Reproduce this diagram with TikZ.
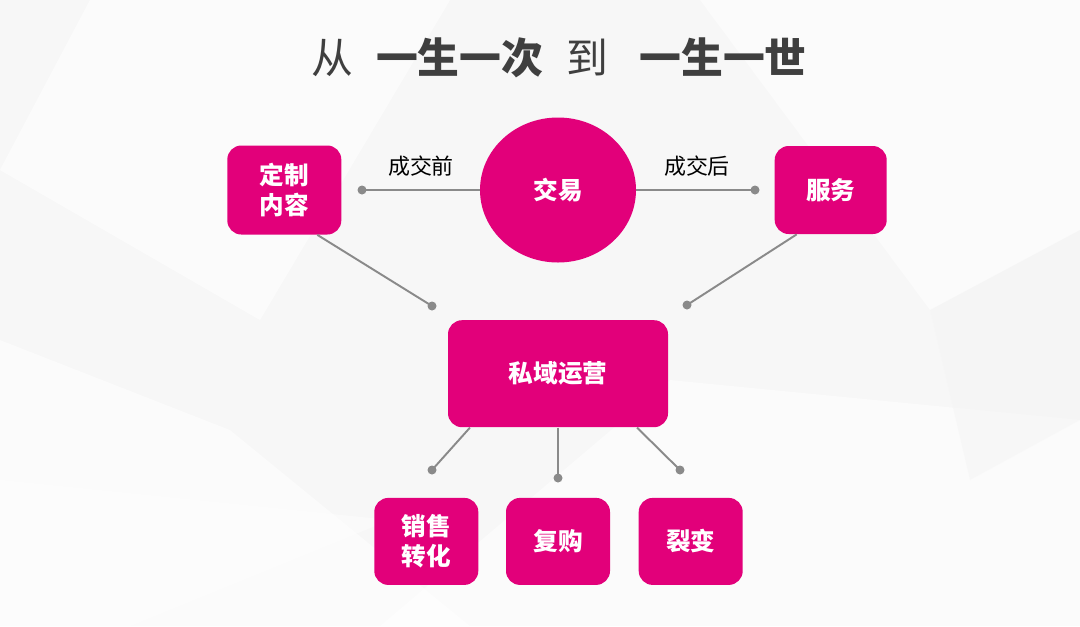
\documentclass[tikz,border=0pt]{standalone}
\usepackage{fontspec}
\setmainfont{Noto Sans CJK SC}
\usepackage{xcolor}
\usetikzlibrary{arrows.meta,positioning,shapes.geometric}
\definecolor{rose}{HTML}{E2007A}
\definecolor{titlegray}{HTML}{3F3F3F}
\definecolor{linkgray}{HTML}{8A8A8A}
\begin{document}
\begin{tikzpicture}[node distance=1.14cm and 2.76cm, every node/.style={font=\fontsize{14pt}{17pt}\selectfont\bfseries}, box/.style={fill=rose,text=white,rounded corners=0.28cm,align=center,inner sep=0pt}, link/.style={draw=linkgray,line width=1.1pt}, dot/.style={fill=linkgray,circle,inner sep=0pt,minimum size=0.18cm}, tag/.style={font=\fontsize{12.5pt}{15pt}\selectfont,text=black}]
% background facets
\fill[gray!6] (0,0) rectangle (21.6,-12.52);
\fill[white,opacity=0.6] (0,-3.4) -- (1.8,0) -- (9,0) -- (5.2,-6.4) -- cycle;
\fill[white,opacity=0.5] (14,0) -- (21.6,0) -- (21.6,-4.6) -- (18.6,-6.2) -- cycle;
\fill[gray!3] (0,-6.8) -- (4.6,-8.6) -- (9.4,-12.52) -- (0,-12.52) -- cycle;
\fill[white,opacity=0.5] (7.6,-12.52) -- (13.4,-7.6) -- (21.6,-8.4) -- (21.6,-12.52) -- cycle;
\fill[gray!8,opacity=0.5] (18.6,-6.2) -- (21.6,-4.6) -- (21.6,-8.4) -- (19.4,-9.6) -- cycle;
\fill[white,opacity=0.4] (0,-9.6) -- (7.8,-10.4) -- (2.6,-12.52) -- (0,-12.52) -- cycle;
\useasboundingbox (0,0) rectangle (21.6,-12.52);
% nodes
\node[font=\fontsize{23.8pt}{26pt}\selectfont,text=titlegray] (title) at (11.18,-1.16) {从\hspace{0.55em}\textbf{一生一次}\hspace{0.55em}到\hspace{0.75em}\textbf{一生一世}};
\node[fill=rose,text=white,ellipse,minimum width=3.12cm,minimum height=2.9cm,inner sep=0pt] (deal) at (11.16,-3.8) {交易};
\node[box,minimum width=2.28cm,minimum height=1.78cm,left=of deal] (custom) {定制\\内容};
\node[box,minimum width=2.24cm,minimum height=1.76cm,right=of deal] (service) {服务};
\node[box,minimum width=4.4cm,minimum height=2.14cm,below=of deal] (private) {私域运营};
\node[box,minimum width=2.08cm,minimum height=1.74cm,below=1.4cm of private] (rebuy) {复购};
\node[box,minimum width=2.08cm,minimum height=1.74cm,left=0.54cm of rebuy] (sales) {销售\\转化};
\node[box,minimum width=2.08cm,minimum height=1.74cm,right=0.56cm of rebuy] (fission) {裂变};
\node[tag] (before) at (8.42,-3.32) {成交前};
\node[tag] (after) at (13.94,-3.32) {成交后};
% free ends
\coordinate (c1) at (7.24,-3.8); \coordinate (c2) at (15.1,-3.8); \coordinate (c3) at (8.64,-6.12); \coordinate (c4) at (13.74,-6.1);
\coordinate (c5) at (8.64,-9.4); \coordinate (c6) at (11.16,-9.56); \coordinate (c7) at (13.6,-9.4);
\draw[link] (c1)--(deal.west); \draw[link] (deal.east)--(c2); \draw[link] ([xshift=0.66cm]custom.south)--(c3); \draw[link] ([xshift=-0.68cm]service.south)--(c4);
\draw[link] ([xshift=-1.76cm]private.south)--(c5); \draw[link] (private.south)--(c6); \draw[link] ([xshift=1.58cm]private.south)--(c7);
\foreach \p in {c1,c2,c3,c4,c5,c6,c7} \node[dot] at (\p) {};
\end{tikzpicture}
\end{document}
